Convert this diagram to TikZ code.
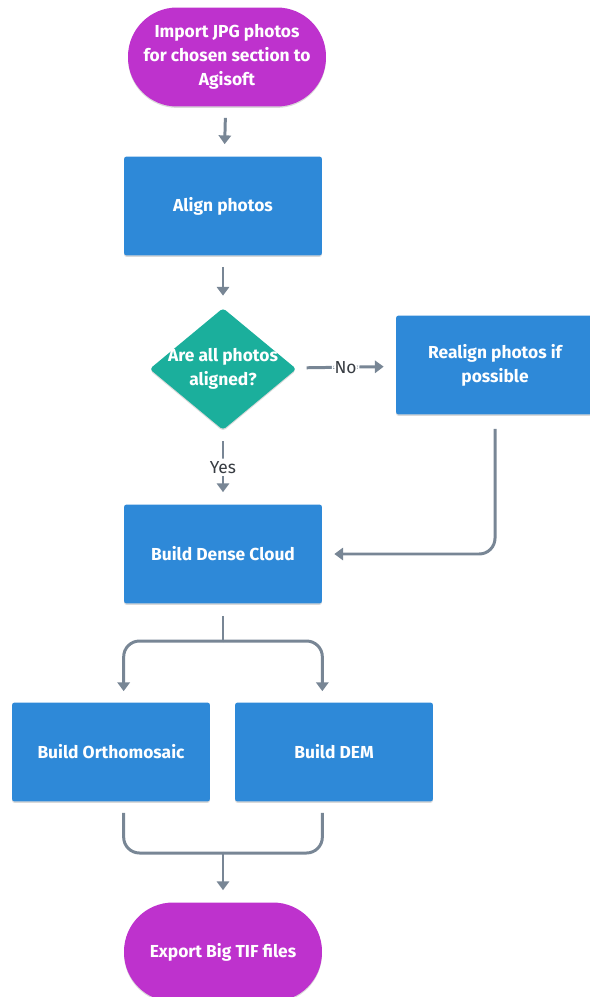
\documentclass[tikz,border=0pt]{standalone}
\usepackage{fontspec}
\setmainfont{Fira Sans}
\usetikzlibrary{positioning, arrows.meta, shapes.geometric, shadows}
\definecolor{TerminalColor}{RGB}{190,50,205}
\definecolor{StepColor}{RGB}{46,137,216}
\definecolor{DecisionColor}{RGB}{27,175,156}
\definecolor{LineColor}{RGB}{120,134,149}
\definecolor{LabelColor}{RGB}{55,60,66}

\begin{document}
\begin{tikzpicture}[x=0.02cm, y=-0.02cm,
    boxtext/.style={text=white, align=center, font=\bfseries\fontsize{9.9}{13.8}\selectfont},
    softshadow/.style={drop shadow={shadow xshift=0pt, shadow yshift=-0.8pt, opacity=0.15, fill=black}},
    stepbox/.style={boxtext, rectangle, rounded corners=1.5pt, fill=StepColor, inner sep=0pt,
      minimum width=3.96cm, minimum height=1.98cm, softshadow},
    terminal/.style={boxtext, rectangle, rounded corners=0.98cm, fill=TerminalColor, inner sep=0pt,
      minimum width=3.96cm, minimum height=1.98cm, softshadow},
    decision/.style={diamond, fill=DecisionColor, rounded corners=2pt, inner sep=0pt,
      minimum width=2.94cm, minimum height=2.44cm, softshadow},
    flow/.style={draw=LineColor, line width=1.7pt, rounded corners=9pt,
      -{Triangle[width=7pt, length=5pt]}},
    spaced/.style={shorten <=0.22cm, shorten >=0.24cm},
    lbl/.style={fill=white, text=LabelColor, inner sep=1.5pt, font=\fontsize{9.9}{11}\selectfont}]
  \useasboundingbox (0,0) rectangle (590,997);

  % main column
  \node[terminal] (import) at (227,57) {Import JPG photos\\for chosen section to\\Agisoft};
  \node[stepbox] (align) at (223,206) {Align photos};
  \node[decision] (check) at (223,369) {};
  \node[boxtext] (checktext) at (check.center) {Are all photos\\aligned?};
  \node[stepbox] (realign) at (495,365) {Realign photos if\\possible};
  \node[stepbox] (dense) at (223,554) {Build Dense Cloud};
  \node[stepbox] (ortho) at (111,752) {Build Orthomosaic};
  \node[stepbox] (dem) at (334,752) {Build DEM};
  \node[terminal] (export) at (223,952) {Export Big TIF files};
  \coordinate (split) at (223,641);
  \coordinate (merge) at (223,853);

  \draw[flow, spaced] (import) -- (align);
  \draw[flow, spaced] (align) -- (check);
  \draw[flow, spaced] (check) -- node[lbl] {No} (realign);
  \draw[flow, spaced] (check) -- node[lbl] {Yes} (dense);
  \draw[flow, shorten <=0.28cm, shorten >=0.24cm] (realign.south) |- (dense.east);

  % split and merge
  \draw[flow, -, shorten <=0.24cm] (dense.south) -- (split);
  \draw[flow, shorten >=0.22cm] (split) -| (dense.south west |- ortho.north);
  \draw[flow, shorten >=0.22cm] (split) -| (dense.south east |- dem.north);
  \draw[flow, -, shorten <=0.22cm] (dense.south west |- ortho.south) |- (merge);
  \draw[flow, -, shorten <=0.22cm] (dense.south east |- dem.south) |- (merge);
  \draw[flow, shorten >=0.24cm] (merge) -- (export.north);
\end{tikzpicture}
\end{document}
